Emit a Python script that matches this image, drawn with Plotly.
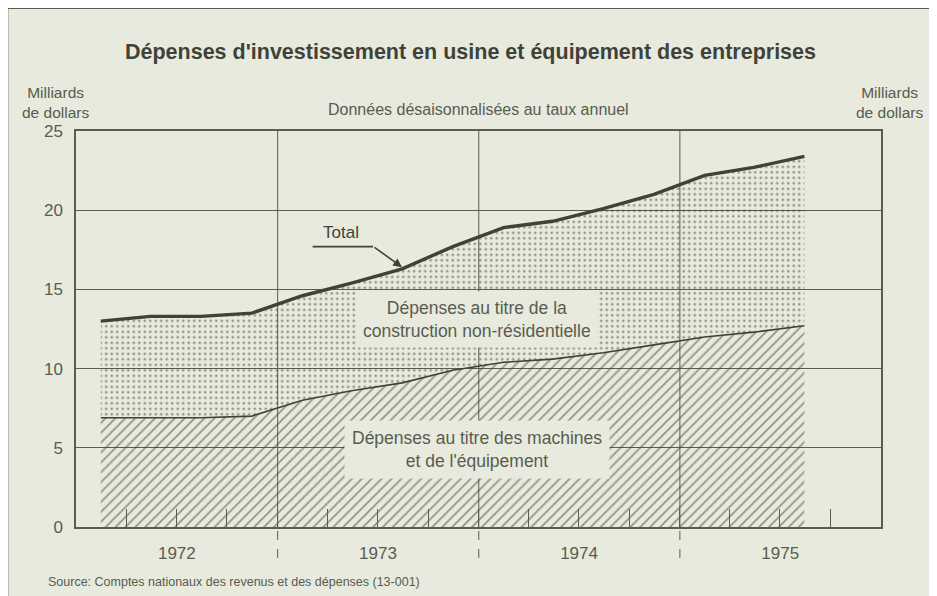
import plotly.graph_objects as go

# quarterly points, plotted at the middle of each quarter
quarters = ["1972-02-15", "1972-05-15", "1972-08-15", "1972-11-15",
            "1973-02-15", "1973-05-15", "1973-08-15", "1973-11-15",
            "1974-02-15", "1974-05-15", "1974-08-15", "1974-11-15",
            "1975-02-15", "1975-05-15", "1975-08-15"]
machinery = [6.9, 6.9, 6.9, 7.0, 8.0, 8.6, 9.1, 9.9, 10.4, 10.6, 11.0, 11.5, 12.0, 12.3, 12.7]
total = [13.0, 13.3, 13.3, 13.5, 14.6, 15.4, 16.3, 17.7, 18.9, 19.3, 20.1, 21.0, 22.2, 22.7, 23.4]

years = ["1972", "1973", "1974", "1975"]
year_mid = ["1972-07-02", "1973-07-02", "1974-07-02", "1975-07-02"]
year_edges = ["1973-01-01", "1974-01-01", "1975-01-01"]
quarter_edges = ["1972-04-01", "1972-07-01", "1972-10-01", "1973-01-01",
                 "1973-04-01", "1973-07-01", "1973-10-01", "1974-01-01",
                 "1974-04-01", "1974-07-01", "1974-10-01", "1975-01-01",
                 "1975-04-01", "1975-07-01", "1975-10-01"]
y_ticks = [0, 5, 10, 15, 20, 25]

bg = "#e7eadd"
ink = "#595c50"
dark = "#3f4238"
font = "Liberation Sans, Arial, sans-serif"

fig = go.Figure()

fig.add_trace(go.Scatter(
    x=quarters, y=machinery, mode="lines",
    line=dict(color=dark, width=1.6),
    fill="tozeroy", fillcolor="rgba(0,0,0,0)",
    fillpattern=dict(shape="/", size=7, solidity=0.26, fgcolor=dark,
                     bgcolor="rgba(0,0,0,0)"),
    hoverinfo="skip"))

fig.add_trace(go.Scatter(
    x=quarters, y=total, mode="lines",
    line=dict(color=dark, width=3.4),
    fill="tonexty", fillcolor="rgba(0,0,0,0)",
    fillpattern=dict(shape=".", size=5.5, solidity=0.2, fgcolor=dark,
                     bgcolor="rgba(0,0,0,0)"),
    hoverinfo="skip"))

# year separators: grid in the plot, dashed marks below the axis
for d in year_edges:
    fig.add_shape(type="line", xref="x", yref="y", x0=d, x1=d, y0=0, y1=25,
                  line=dict(color=ink, width=1), layer="below")
    fig.add_shape(type="line", xref="x", yref="paper", x0=d, x1=d, y0=-0.01, y1=-0.1,
                  line=dict(color=ink, width=1, dash="dash"))


def note(text, x, y, size, color=ink, xref="paper", yref="paper", **kw):
    fig.add_annotation(x=x, y=y, xref=xref, yref=yref, text=text, showarrow=False,
                       xanchor=kw.pop("xanchor", "center"), yanchor="middle",
                       font=dict(size=size, color=color, family=font), **kw)


# labels over the areas
note("Dépenses au titre de la<br>construction non-résidentielle", 0.498, 13.1, 17.5,
     yref="y", bgcolor=bg, borderpad=6)
note("Dépenses au titre des machines<br>et de l'équipement", 0.498, 4.9, 17.5,
     yref="y", bgcolor=bg, borderpad=7)

# Total label with bent arrow
note("Total", 0.329, 18.6, 17, color=dark, yref="y")
fig.add_shape(type="line", xref="paper", yref="y", x0=0.294, x1=0.369, y0=17.7, y1=17.7,
              line=dict(color=dark, width=1.6))
fig.add_annotation(x=0.405, y=16.4, xref="paper", yref="y", text="",
                   showarrow=True, arrowhead=2, arrowsize=1.1, arrowwidth=1.6,
                   arrowcolor=dark, ax=-29, ay=-21)

# titles and units
note("<b>Dépenses d'investissement en usine et équipement des entreprises</b>",
     0.49, 1.2, 21.5, color=dark)
note("Données désaisonnalisées au taux annuel", 0.5, 1.055, 16)
note("Milliards<br>de dollars", -0.025, 1.073, 15.5)
note("Milliards<br>de dollars", 1.01, 1.073, 15.5)
note("Source: Comptes nationaux des revenus et des dépenses (13-001)", -0.037, -0.14, 12.5,
     xanchor="left")

# outer frame (right edge runs off the page)
fig.add_shape(type="rect", xref="paper", yref="paper", x0=-0.085, x1=1.09, y0=-0.2, y1=1.31,
              line=dict(color=ink, width=1.5))

axis_font = dict(size=17, color=ink, family=font)
fig.update_layout(
    width=937, height=596,
    margin=dict(l=68, r=64, t=123, b=77),
    paper_bgcolor=bg, plot_bgcolor=bg,
    showlegend=False,
    xaxis=dict(type="date", range=["1972-01-01", "1976-01-01"],
               tickmode="array", tickvals=year_mid, ticktext=years,
               ticks="", showgrid=False, zeroline=False,
               showline=True, linecolor=ink, linewidth=1.5, mirror=True,
               ticklabelstandoff=10, tickfont=axis_font,
               minor=dict(tickmode="array", tickvals=quarter_edges, ticks="inside",
                          ticklen=18, tickcolor=ink, tickwidth=1, showgrid=False)),
    yaxis=dict(range=[0, 25], tickvals=y_ticks, showgrid=True, gridcolor=ink, gridwidth=1,
               zeroline=False, showline=True, linecolor=ink, linewidth=1.5, mirror=True,
               ticks="", ticklabelstandoff=8, tickfont=axis_font),
    yaxis2=dict(range=[0, 25], tickvals=y_ticks, overlaying="y", side="right",
                showgrid=False, zeroline=False, ticks="", ticklabelstandoff=8,
                tickfont=axis_font),
)

fig.write_html("out.html")
